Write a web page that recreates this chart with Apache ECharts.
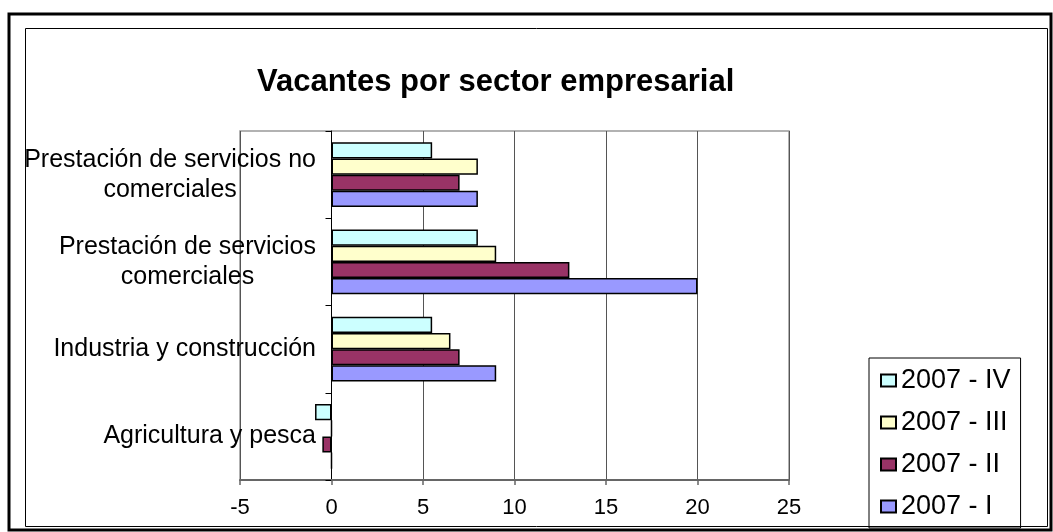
<!DOCTYPE html>
<html>
<head>
<meta charset="utf-8">
<script src="https://cdn.jsdelivr.net/npm/echarts@6/dist/echarts.min.js"></script>
<style>
  html, body { margin: 0; padding: 0; background: #fff; }
  #chart { width: 1053px; height: 532px; }
</style>
</head>
<body>
<div id="chart"></div>
<script>
// categories, bottom to top
var categories = [
  'Agricultura y pesca',
  'Industria y construcción',
  'Prestación de servicios\ncomerciales',
  'Prestación de servicios no\ncomerciales'
];
var xTicks = { min: -5, max: 25, interval: 5 };

var q1 = [0, 9, 20, 8];
var q2 = [-0.5, 7, 13, 7];
var q3 = [0, 6.5, 9, 8];
var q4 = [-0.9, 5.5, 8, 5.5];

// listed top to bottom inside each group (first series is drawn on top)
var seriesNames = ['2007 - IV', '2007 - III', '2007 - II', '2007 - I'];
var seriesColors = ['#CCFFFF', '#FFFFCC', '#993366', '#9999FF'];
var seriesData = [q4, q3, q2, q1];

var font = "'Liberation Sans', Arial, sans-serif";

var chart = echarts.init(document.getElementById('chart'));

var series = seriesData.map(function (d, i) {
  return {
    name: seriesNames[i],
    type: 'bar',
    data: d,
    barGap: '0%',
    barCategoryGap: '26%',
    itemStyle: {
      color: seriesColors[i],
      borderColor: '#000',
      borderWidth: 1.5
    }
  };
});

var option = {
  animation: false,
  textStyle: { fontFamily: font },
  title: {
    text: 'Vacantes por sector empresarial',
    left: 252,
    top: 62,
    textStyle: { fontSize: 31, fontWeight: 'bold', color: '#000', fontFamily: font }
  },
  legend: {
    data: seriesNames,
    orient: 'vertical',
    left: 869,
    top: 358,
    padding: [9, 10, 8, 11],
    itemGap: 15,
    itemWidth: 15,
    itemHeight: 12,
    itemTextGap: 13,
    icon: 'rect',
    borderColor: '#000',
    borderWidth: 1,
    textStyle: { fontSize: 27, lineHeight: 27, color: '#000', fontFamily: font }
  },
  grid: {
    left: 240,
    top: 131,
    right: 264,
    bottom: 52,
    show: true,
    borderColor: '#999',
    borderWidth: 1.5,
    containLabel: false,
    outerBoundsMode: 'none'
  },
  xAxis: {
    type: 'value',
    min: xTicks.min,
    max: xTicks.max,
    interval: xTicks.interval,
    axisLine: { show: true, lineStyle: { color: '#666', width: 2 } },
    axisTick: { show: true, length: 5, lineStyle: { color: '#666', width: 1.5 } },
    axisLabel: { fontSize: 22, color: '#000', margin: 17, fontFamily: font },
    splitLine: { show: true, lineStyle: { color: '#555', width: 1 } }
  },
  yAxis: {
    type: 'category',
    data: categories,
    axisLine: { show: true, lineStyle: { color: '#000', width: 1 } },
    axisTick: { show: true, length: 6, lineStyle: { color: '#000' } },
    axisLabel: {
      margin: -76,
      fontSize: 25,
      color: '#000',
      fontFamily: font,
      formatter: function (v) {
        return v.split('\n').map(function (s) { return '{c|' + s + '}'; }).join('\n');
      },
      rich: {
        c: { align: 'center', fontSize: 25, lineHeight: 30, color: '#000', fontFamily: font }
      }
    },
    splitLine: { show: false }
  },
  graphic: [
    {
      type: 'rect',
      shape: { x: 9, y: 14, width: 1042, height: 516 },
      style: { fill: null, stroke: '#000', lineWidth: 3 },
      silent: true
    },
    {
      type: 'rect',
      shape: { x: 25.5, y: 28.5, width: 1022, height: 498 },
      style: { fill: null, stroke: '#000', lineWidth: 1 },
      silent: true
    }
  ],
  series: series
};

chart.setOption(option);
</script>
</body>
</html>
